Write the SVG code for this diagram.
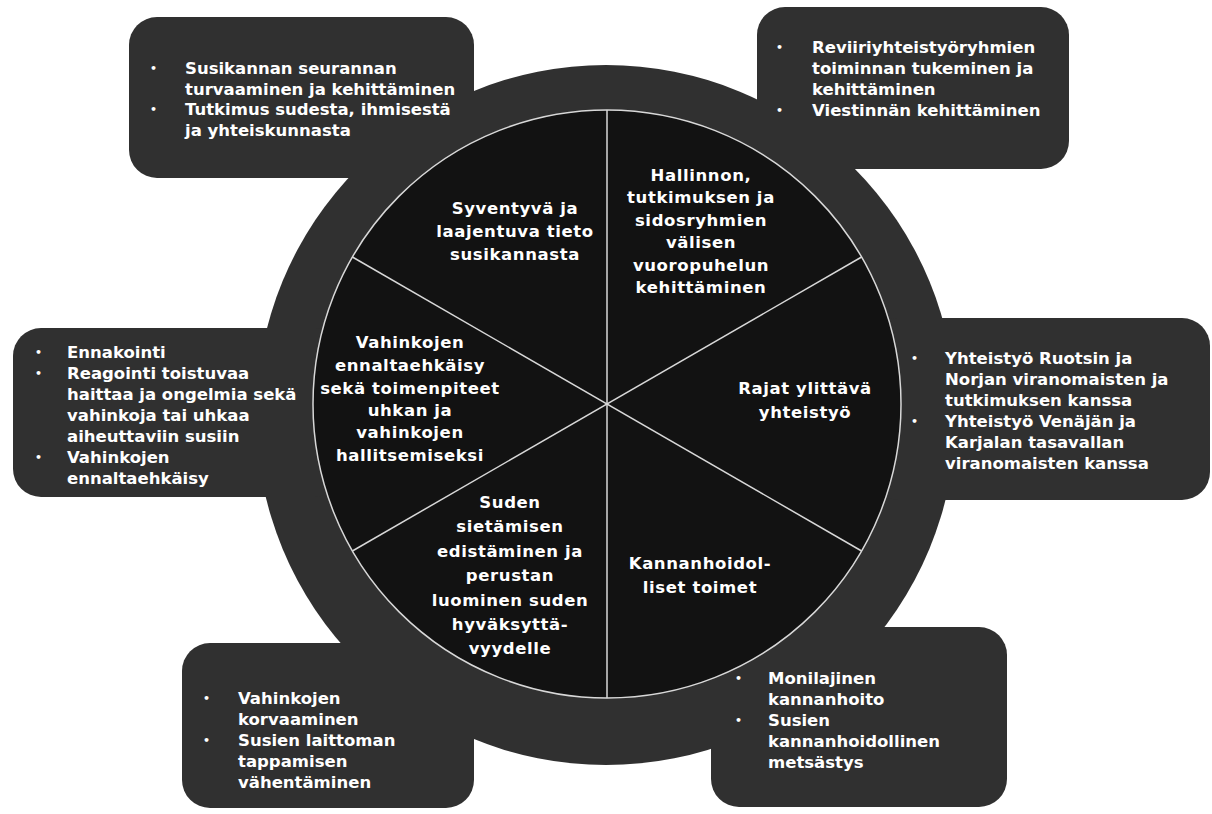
<svg xmlns="http://www.w3.org/2000/svg" width="1212" height="814" viewBox="0 0 1212 814">
<style>
.box{fill:#303030}
.ring{fill:#303030}
.core{fill:#121212;stroke:#d8d8d8;stroke-width:1.5}
.div{stroke:#d8d8d8;stroke-width:1.5;fill:none}
text{font-family:"DejaVu Sans","Liberation Sans",sans-serif;font-weight:bold;font-size:16.5px;fill:#ffffff}
.bul{font-size:11px}
.lab{text-anchor:middle;letter-spacing:0.6px}
</style>
<rect width="1212" height="814" fill="#ffffff"/>
<g id="ring"><circle class="ring" cx="606" cy="415" r="350"/></g>
<g id="box-tl">
<rect class="box" x="129" y="17" width="345" height="161" rx="28"/>
<text class="bul" x="150" y="72">•</text>
<text x="185" y="74">Susikannan seurannan</text>
<text x="185" y="95">turvaaminen ja kehittäminen</text>
<text class="bul" x="150" y="113">•</text>
<text x="185" y="115">Tutkimus sudesta, ihmisestä</text>
<text x="185" y="136">ja yhteiskunnasta</text>
</g>
<g id="box-tr">
<rect class="box" x="757" y="7" width="312" height="162" rx="28"/>
<text class="bul" x="776" y="51">•</text>
<text x="812" y="53">Reviiriyhteistyöryhmien</text>
<text x="812" y="74">toiminnan tukeminen ja</text>
<text x="812" y="95">kehittäminen</text>
<text class="bul" x="776" y="114">•</text>
<text x="812" y="116">Viestinnän kehittäminen</text>
</g>
<g id="box-l">
<rect class="box" x="13" y="328" width="330" height="169" rx="28"/>
<text class="bul" x="35" y="356">•</text>
<text x="67" y="358">Ennakointi</text>
<text class="bul" x="35" y="377">•</text>
<text x="67" y="379">Reagointi toistuvaa</text>
<text x="67" y="400">haittaa ja ongelmia sekä</text>
<text x="67" y="421">vahinkoja tai uhkaa</text>
<text x="67" y="442">aiheuttaviin susiin</text>
<text class="bul" x="35" y="461">•</text>
<text x="67" y="463">Vahinkojen</text>
<text x="67" y="484">ennaltaehkäisy</text>
</g>
<g id="box-r">
<rect class="box" x="870" y="318" width="340" height="182" rx="28"/>
<text class="bul" x="911" y="362">•</text>
<text x="945" y="364">Yhteistyö Ruotsin ja</text>
<text x="945" y="385">Norjan viranomaisten ja</text>
<text x="945" y="406">tutkimuksen kanssa</text>
<text class="bul" x="911" y="425">•</text>
<text x="945" y="427">Yhteistyö Venäjän ja</text>
<text x="945" y="448">Karjalan tasavallan</text>
<text x="945" y="469">viranomaisten kanssa</text>
</g>
<g id="box-bl">
<rect class="box" x="182" y="643" width="292" height="165" rx="28"/>
<text class="bul" x="203" y="702">•</text>
<text x="238" y="704">Vahinkojen</text>
<text x="238" y="725">korvaaminen</text>
<text class="bul" x="203" y="744">•</text>
<text x="238" y="746">Susien laittoman</text>
<text x="238" y="767">tappamisen</text>
<text x="238" y="788">vähentäminen</text>
</g>
<g id="box-br">
<rect class="box" x="711" y="627" width="296" height="180" rx="28"/>
<text class="bul" x="735" y="682">•</text>
<text x="768" y="684">Monilajinen</text>
<text x="768" y="705">kannanhoito</text>
<text class="bul" x="735" y="724">•</text>
<text x="768" y="726">Susien</text>
<text x="768" y="747">kannanhoidollinen</text>
<text x="768" y="768">metsästys</text>
</g>
<g id="core"><circle class="core" cx="607" cy="404" r="294"/></g>
<g id="connectors">
<line class="div" x1="607" y1="110" x2="607" y2="698"/>
<line class="div" x1="352.4" y1="257" x2="861.6" y2="551"/>
<line class="div" x1="352.4" y1="551" x2="861.6" y2="257"/>
</g>
<g id="sector-knowledge">
<text class="lab" x="515" y="214">Syventyvä ja</text>
<text class="lab" x="515" y="237">laajentuva tieto</text>
<text class="lab" x="515" y="260">susikannasta</text>
</g>
<g id="sector-dialogue">
<text class="lab" x="701" y="181">Hallinnon,</text>
<text class="lab" x="701" y="203">tutkimuksen ja</text>
<text class="lab" x="701" y="226">sidosryhmien</text>
<text class="lab" x="701" y="248">välisen</text>
<text class="lab" x="701" y="271">vuoropuhelun</text>
<text class="lab" x="701" y="293">kehittäminen</text>
</g>
<g id="sector-crossborder">
<text class="lab" x="805" y="394">Rajat ylittävä</text>
<text class="lab" x="805" y="418">yhteistyö</text>
</g>
<g id="sector-management">
<text class="lab" x="700" y="569">Kannanhoidol-</text>
<text class="lab" x="700" y="593">liset toimet</text>
</g>
<g id="sector-tolerance">
<text class="lab" x="510" y="508">Suden</text>
<text class="lab" x="510" y="532">sietämisen</text>
<text class="lab" x="510" y="557">edistäminen ja</text>
<text class="lab" x="510" y="581">perustan</text>
<text class="lab" x="510" y="606">luominen suden</text>
<text class="lab" x="510" y="630">hyväksyttä-</text>
<text class="lab" x="510" y="654">vyydelle</text>
</g>
<g id="sector-prevention">
<text class="lab" x="410" y="348">Vahinkojen</text>
<text class="lab" x="410" y="371">ennaltaehkäisy</text>
<text class="lab" x="410" y="394">sekä toimenpiteet</text>
<text class="lab" x="410" y="416">uhkan ja</text>
<text class="lab" x="410" y="438">vahinkojen</text>
<text class="lab" x="410" y="461">hallitsemiseksi</text>
</g>
</svg>
